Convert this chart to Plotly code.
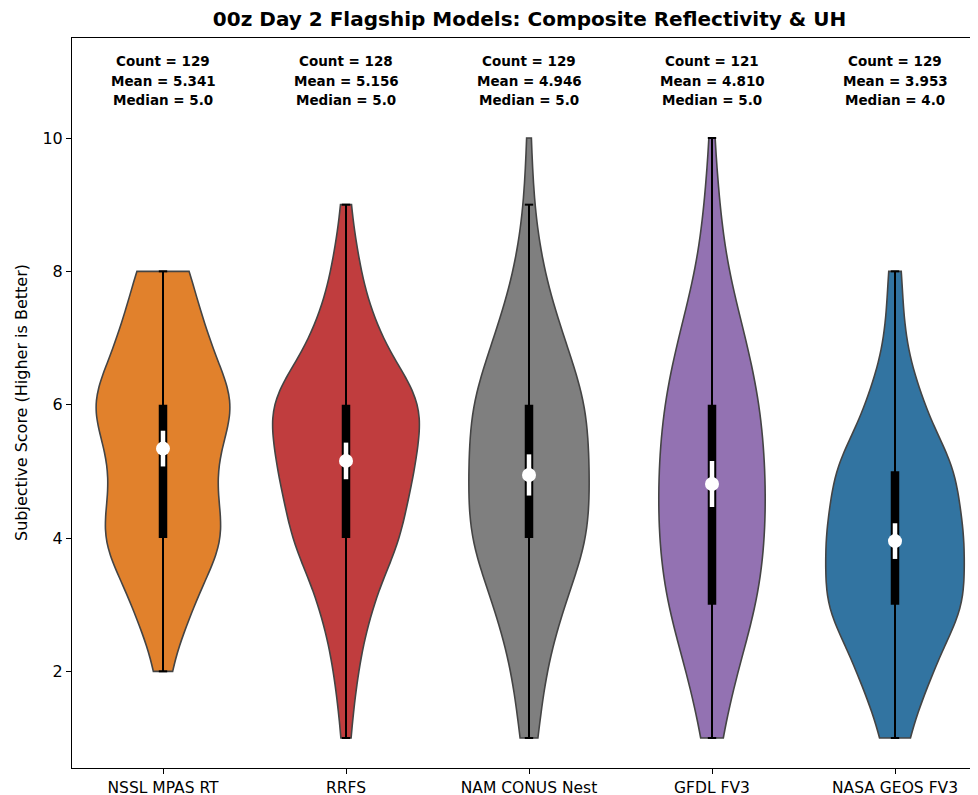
import numpy as np
import plotly.graph_objects as go

# ---------------- data ----------------
models = ["NSSL MPAS RT", "RRFS", "NAM CONUS Nest", "GFDL FV3", "NASA GEOS FV3"]
score_levels = [1, 2, 3, 4, 5, 6, 7, 8, 9, 10]
# number of cases receiving each score (1..10)
nssl_counts = [0, 3, 13, 28, 21, 33, 19, 12, 0, 0]
rrfs_counts = [2, 5, 11, 24, 29, 35, 14, 6, 2, 0]
nam_counts = [4, 7, 15, 27, 26, 26, 15, 6, 2, 1]
gfdl_counts = [4, 10, 19, 22, 22, 20, 14, 6, 3, 1]
nasa_counts = [6, 16, 31, 30, 27, 12, 4, 3, 0, 0]
y_ticks = [2, 4, 6, 8, 10]

all_counts = [nssl_counts, rrfs_counts, nam_counts, gfdl_counts, nasa_counts]

# ---------------- styles / layout (page has an 8px body offset) ----------------
fill_colors = ["#e1812c", "#c03d3e", "#7f7f7f", "#9372b2", "#3274a1"]
edge_color = "#444444"
OFF = 8
W, H = 978 - OFF, 795 - OFF
M_L, M_R, M_T = 72 - OFF, 0, 38 - OFF
M_B = H - (768 - OFF)
Y_RANGE = [0.55, 11.5]
plot_w = W - M_L - M_R
plot_h = H - M_T - M_B
px_per_cat = 183.0
x0 = -(163 - OFF - M_L) / px_per_cat
X_RANGE = [x0, x0 + plot_w / px_per_cat]
FONT = "DejaVu Sans"


def y_from_px(py):
    # py given in reference-picture pixels
    return Y_RANGE[1] - (py - OFF - M_T) * (Y_RANGE[1] - Y_RANGE[0]) / plot_h


def kde_peak(data, bw):
    grid = np.linspace(data.min(), data.max(), 400)
    z = (grid[:, None] - data[None, :]) / bw
    dens = np.exp(-0.5 * z ** 2).sum(axis=1) / (data.size * bw * np.sqrt(2 * np.pi))
    return dens.max()


fig = go.Figure()

prepared = []
for counts in all_counts:
    data = np.repeat(np.array(score_levels, dtype=float), counts)
    sd = data.std(ddof=1)
    bw = sd * data.size ** (-1 / 5)
    prepared.append((data, bw, kde_peak(data, bw)))
peak_max = max(p[2] for p in prepared)

stats = []
for i, (name, (data, bw, peak)) in enumerate(zip(models, prepared)):
    n = data.size
    mean = data.mean()
    sd = data.std(ddof=1)
    med = np.median(data)
    q1, q3 = np.percentile(data, [25, 75])
    iqr = q3 - q1
    lo = data[data >= q1 - 1.5 * iqr].min()
    hi = data[data <= q3 + 1.5 * iqr].max()
    ci = 1.96 * sd / np.sqrt(n)
    stats.append((n, mean, med))

    fig.add_trace(go.Violin(
        x=np.full(n, i), y=data, name=name,
        fillcolor=fill_colors[i], opacity=1,
        line=dict(color=edge_color, width=1.6),
        points=False, box_visible=False, meanline_visible=False,
        spanmode="hard", bandwidth=bw,
        scalemode="width", width=0.8 * peak / peak_max,
        side="both", hoverinfo="skip", showlegend=False,
    ))
    fig.add_trace(go.Scatter(
        x=[i, i], y=[lo, hi], mode="lines+markers",
        line=dict(color="black", width=2),
        marker=dict(symbol="line-ew", size=6, line=dict(color="black", width=2)),
        hoverinfo="skip", showlegend=False))
    fig.add_trace(go.Scatter(
        x=[i, i], y=[q1, q3], mode="lines",
        line=dict(color="black", width=8.5),
        hoverinfo="skip", showlegend=False))
    fig.add_trace(go.Scatter(
        x=[i, i], y=[mean - ci, mean + ci], mode="lines",
        line=dict(color="white", width=4.5),
        hoverinfo="skip", showlegend=False))
    fig.add_trace(go.Scatter(
        x=[i], y=[mean], mode="markers",
        marker=dict(color="white", size=14, line=dict(width=0)),
        hoverinfo="skip", showlegend=False))

annotations = []
line_px = [61, 80.5, 100]
for i, (n, mean, med) in enumerate(stats):
    texts = [f"Count = {n}", f"Mean = {mean:.3f}", f"Median = {med:.1f}"]
    for t, py in zip(texts, line_px):
        annotations.append(dict(
            x=i, y=y_from_px(py), xref="x", yref="y", text=f"<b>{t}</b>",
            showarrow=False, xanchor="center", yanchor="middle",
            font=dict(family=FONT, size=13.5, color="black")))

annotations.append(dict(
    x=(21 - OFF - M_L) / plot_w, y=0.5, xref="paper", yref="paper",
    text="Subjective Score (Higher is Better)", textangle=-90,
    showarrow=False, xanchor="center", yanchor="middle",
    font=dict(family=FONT, size=16, color="black")))

fig.update_layout(
    width=W, height=H,
    margin=dict(l=M_L, r=M_R, t=M_T, b=M_B, autoexpand=False),
    paper_bgcolor="white", plot_bgcolor="white",
    violinmode="overlay", violingap=0, violingroupgap=0,
    title=dict(text="<b>00z Day 2 Flagship Models: Composite Reflectivity & UH</b>",
               x=(529.5 - OFF) / W, xref="container", xanchor="center",
               y=1 - (19 - OFF) / H, yref="container", yanchor="middle",
               font=dict(family=FONT, size=20, color="black")),
    xaxis=dict(range=X_RANGE, tickvals=list(range(len(models))), ticktext=models,
               showgrid=False, zeroline=False, showline=True, linecolor="black",
               linewidth=1, mirror=True, ticks="outside", ticklen=5,
               tickcolor="black", tickfont=dict(family=FONT, size=15.5, color="black")),
    yaxis=dict(range=Y_RANGE, tickvals=y_ticks, showgrid=False, zeroline=False,
               showline=True, linecolor="black", linewidth=1, mirror=False,
               ticks="outside", ticklen=5, tickcolor="black",
               tickfont=dict(family=FONT, size=16, color="black")),
    annotations=annotations,
)

fig.write_html("out.html")
